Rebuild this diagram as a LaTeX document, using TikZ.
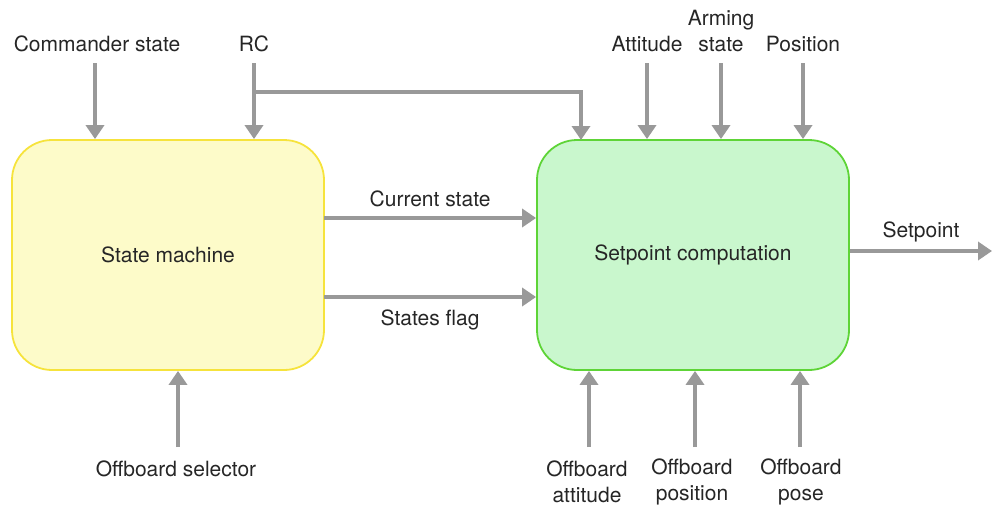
\documentclass[tikz,border=0pt]{standalone}
\usepackage{fontspec}
\setmainfont{TeX Gyre Heros}
\usetikzlibrary{arrows.meta}
\definecolor{arrowgray}{HTML}{999999}
\definecolor{ylfill}{HTML}{FDFBC9}
\definecolor{yldraw}{HTML}{F6E33C}
\definecolor{grfill}{HTML}{C9F7CD}
\definecolor{grdraw}{HTML}{5ED437}
\definecolor{txt}{HTML}{262626}
\begin{document}
\begin{tikzpicture}[x=1pt,y=-1pt,
  every node/.style={font=\fontsize{21}{26}\selectfont, text=txt, inner sep=0pt, align=center},
  blockbox/.style={rounded corners=40pt, line width=1.8pt, minimum width=312pt, minimum height=230pt},
  flow/.style={draw=arrowgray, line width=4pt, -{Triangle[width=18pt,length=14pt]}},
  plainline/.style={draw=arrowgray, line width=4pt}]
\useasboundingbox (0,0) rectangle (992,514);
\node[blockbox, fill=ylfill, draw=yldraw] (sm) at (168,255) {State machine};
\node[blockbox, fill=grfill, draw=grdraw] (sc) at (693,255) {Setpoint computation};
% top inputs
\node (cmd) at (97,44) {Commander state};
\node (rc) at (254,44) {RC};
\node (att) at (647,44) {Attitude};
\node (arm) at (721,31) {Arming\\state};
\node (pos) at (803,44) {Position};
\coordinate (cmdT) at (95,63);
\coordinate (rcT) at (254,63);
\coordinate (attT) at (647,63);
\coordinate (armT) at (721,63);
\coordinate (posT) at (803,63);
\coordinate (rcB) at (254,92);
\draw[flow] (cmdT) -- (cmdT |- sm.north);
\draw[flow] (rcT) -- (rcT |- sm.north);
\draw[flow] (rcB) -| (581,140);
\draw[flow] (attT) -- (attT |- sc.north);
\draw[flow] (armT) -- (armT |- sc.north);
\draw[flow] (posT) -- (posT |- sc.north);
% middle
\coordinate (cs) at (324,218);
\coordinate (sf) at (324,297);
\draw[flow] (cs) -- (cs -| sc.west) node[midway, above=9pt] (cslab) {Current state};
\draw[flow] (sf) -- (sf -| sc.west) node[midway, below=11pt] (sflab) {States flag};
% output
\coordinate (outE) at (992,251);
\draw[flow] (sc.east |- outE) -- (outE);
\node (spl) at (921,232) {Setpoint};
% bottom inputs
\node (osel) at (176,469) {Offboard selector};
\node (oatt) at (587,482) {Offboard\\attitude};
\node (opos) at (692,482) {Offboard\\position};
\node (opose) at (801,482) {Offboard\\pose};
\coordinate (oselB) at (178,447);
\coordinate (oattB) at (589,447);
\coordinate (oposB) at (695,447);
\coordinate (oposeB) at (800,447);
\draw[flow] (oselB) -- (oselB |- sm.south);
\draw[flow] (oattB) -- (oattB |- sc.south);
\draw[flow] (oposB) -- (oposB |- sc.south);
\draw[flow] (oposeB) -- (oposeB |- sc.south);
\end{tikzpicture}
\end{document}
